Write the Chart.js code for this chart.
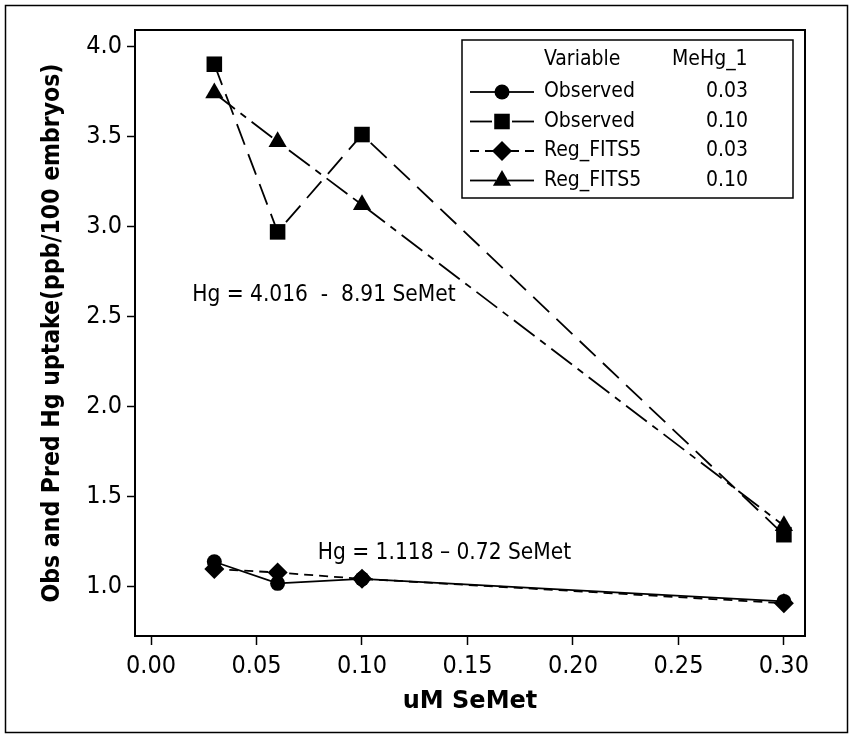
<!DOCTYPE html>
<html lang="en">
<head>
    <meta charset="UTF-8">
    <title>Hg uptake vs SeMet</title>
    <script src="https://cdn.jsdelivr.net/npm/chart.js@4"></script>
    <style>
        html, body { margin: 0; padding: 0; background: #fff; }
        #wrap { width: 853px; height: 740px; }
    </style>
</head>
<body>
    <div id="wrap"><canvas id="myChart" width="853" height="740"></canvas></div>

    <script>
        // datos
        const semet = [0.03, 0.06, 0.10, 0.30];
        const obs003 = [1.14, 1.02, 1.045, 0.92];
        const obs010 = [3.90, 2.97, 3.51, 1.29];
        const fit003 = [1.10, 1.08, 1.045, 0.91];
        const fit010 = [3.74, 3.47, 3.12, 1.34];

        const seriesNames = ['Observed', 'Observed', 'Reg_FITS5', 'Reg_FITS5'];
        const mehgLevels = ['0.03', '0.10', '0.03', '0.10'];

        const xTicks = [0.00, 0.05, 0.10, 0.15, 0.20, 0.25, 0.30];
        const yTicks = [1.0, 1.5, 2.0, 2.5, 3.0, 3.5, 4.0];

        const eqTop = 'Hg = 4.016  -  8.91 SeMet';
        const eqBottom = 'Hg = 1.118 \u2013 0.72 SeMet';

        function pts(ys) {
            return semet.map((x, i) => ({ x: x, y: ys[i] }));
        }

        function makeSet(label, ys, style, dash, radius) {
            return {
                label: label,
                data: pts(ys),
                borderColor: '#000',
                backgroundColor: '#000',
                borderWidth: 1.8,
                borderDash: dash,
                pointStyle: style,
                pointRadius: radius,
                pointBorderWidth: 0,
                tension: 0
            };
        }

        // marco exterior y fondo blanco
        const framePlugin = {
            id: 'frame',
            beforeDraw(chart) {
                const ctx = chart.ctx;
                ctx.save();
                ctx.fillStyle = '#fff';
                ctx.fillRect(0, 0, chart.width, chart.height);
                ctx.strokeStyle = '#000';
                ctx.lineWidth = 1.5;
                ctx.strokeRect(5.5, 5.5, chart.width - 11, chart.height - 13);
                ctx.restore();
            },
            afterDatasetsDraw(chart) {
                const a = chart.chartArea;
                const ctx = chart.ctx;
                ctx.save();
                ctx.strokeStyle = '#000';
                ctx.lineWidth = 2;
                ctx.strokeRect(a.left, a.top, a.right - a.left, a.bottom - a.top);
                ctx.restore();
            }
        };

        // ecuaciones de regresion
        const textPlugin = {
            id: 'eqs',
            afterDatasetsDraw(chart) {
                const ctx = chart.ctx;
                const xs = chart.scales.x, ys = chart.scales.y;
                ctx.save();
                ctx.fillStyle = '#000';
                ctx.font = '22.5px "Liberation Sans Narrow", "DejaVu Sans Condensed", sans-serif';
                ctx.textBaseline = 'middle';
                ctx.fillText(eqTop, xs.getPixelForValue(0.0195), ys.getPixelForValue(2.62));
                ctx.fillText(eqBottom, xs.getPixelForValue(0.079), ys.getPixelForValue(1.19));
                ctx.restore();
            }
        };

        // leyenda estilo Minitab
        const legendPlugin = {
            id: 'boxLegend',
            afterDraw(chart) {
                const a = chart.chartArea;
                const ctx = chart.ctx;
                const left = a.right - 343, top = a.top + 10;
                const w = 331, h = 158;
                ctx.save();
                ctx.fillStyle = '#fff';
                ctx.fillRect(left, top, w, h);
                ctx.strokeStyle = '#000';
                ctx.lineWidth = 1.5;
                ctx.strokeRect(left, top, w, h);

                ctx.fillStyle = '#000';
                ctx.font = '21px "DejaVu Sans Condensed", "DejaVu Sans", sans-serif';
                ctx.textBaseline = 'middle';
                ctx.fillText('Variable', left + 82, top + 20);
                ctx.fillText('MeHg_1', left + 210, top + 20);

                chart.data.datasets.forEach((ds, i) => {
                    const y = top + 52 + i * 29.5;
                    const x0 = left + 8, x1 = left + 72, xc = (x0 + x1) / 2;
                    ctx.lineWidth = ds.borderWidth;
                    ctx.setLineDash(ds.borderDash || []);
                    // cada mitad desde el extremo hacia el marcador
                    ctx.beginPath();
                    ctx.moveTo(x0, y);
                    ctx.lineTo(xc, y);
                    ctx.stroke();
                    ctx.beginPath();
                    ctx.moveTo(x1, y);
                    ctx.lineTo(xc, y);
                    ctx.stroke();
                    ctx.setLineDash([]);
                    Chart.helpers.drawPoint(ctx, {
                        pointStyle: ds.pointStyle,
                        radius: ds.pointRadius,
                        borderWidth: 0,
                        rotation: 0
                    }, xc, y);
                    ctx.fillText(seriesNames[i], left + 82, y);
                    ctx.textAlign = 'right';
                    ctx.fillText(mehgLevels[i], left + 286, y);
                    ctx.textAlign = 'left';
                });
                ctx.restore();
            }
        };

        const tickFont = { family: '"DejaVu Sans Condensed", "DejaVu Sans", sans-serif', size: 25 };

        const config = {
            type: 'scatter',
            data: {
                datasets: [
                    makeSet('Observed 0.03', obs003, 'circle', [], 7.5),
                    makeSet('Observed 0.10', obs010, 'rect', [22, 10], 11),
                    makeSet('Reg_FITS5 0.03', fit003, 'rectRot', [9, 6], 10),
                    makeSet('Reg_FITS5 0.10', fit010, 'triangle', [26, 7, 7, 7], 10.5)
                ]
            },
            options: {
                responsive: false,
                animation: false,
                showLine: true,
                layout: { padding: { left: 34, top: 30, right: 48, bottom: 20 } },
                plugins: {
                    legend: { display: false },
                    tooltip: { enabled: false }
                },
                scales: {
                    x: {
                        type: 'linear',
                        min: -0.0076,
                        max: 0.31,
                        afterBuildTicks(scale) {
                            scale.ticks = xTicks.map(v => ({ value: v }));
                        },
                        afterFit(scale) { scale.height = 84; },
                        ticks: {
                            color: '#000',
                            font: tickFont,
                            padding: 6,
                            maxRotation: 0,
                            callback: v => v.toFixed(2)
                        },
                        grid: {
                            display: true,
                            drawOnChartArea: false,
                            drawTicks: true,
                            tickLength: 9,
                            tickWidth: 1.5,
                            color: '#000'
                        },
                        border: { display: true, color: '#000', width: 2 },
                        title: {
                            display: true,
                            text: 'uM SeMet',
                            color: '#000',
                            font: { family: '"DejaVu Sans", sans-serif', size: 24, weight: 'bold' },
                            padding: { top: 0 }
                        }
                    },
                    y: {
                        type: 'linear',
                        min: 0.728,
                        max: 4.09,
                        afterBuildTicks(scale) {
                            scale.ticks = yTicks.map(v => ({ value: v }));
                        },
                        afterFit(scale) { scale.width = 101; },
                        ticks: {
                            color: '#000',
                            font: tickFont,
                            padding: 5,
                            callback: v => v.toFixed(1)
                        },
                        grid: {
                            display: true,
                            drawOnChartArea: false,
                            drawTicks: true,
                            tickLength: 8,
                            tickWidth: 1.5,
                            color: '#000'
                        },
                        border: { display: true, color: '#000', width: 2 },
                        title: {
                            display: true,
                            text: 'Obs and Pred Hg uptake(ppb/100 embryos)',
                            color: '#000',
                            font: { family: '"DejaVu Sans Condensed", "DejaVu Sans", sans-serif', size: 24.5, weight: 'bold' },
                            padding: { bottom: 2 }
                        }
                    }
                }
            },
            plugins: [framePlugin, textPlugin, legendPlugin]
        };

        new Chart(document.getElementById('myChart'), config);
    </script>
</body>
</html>
